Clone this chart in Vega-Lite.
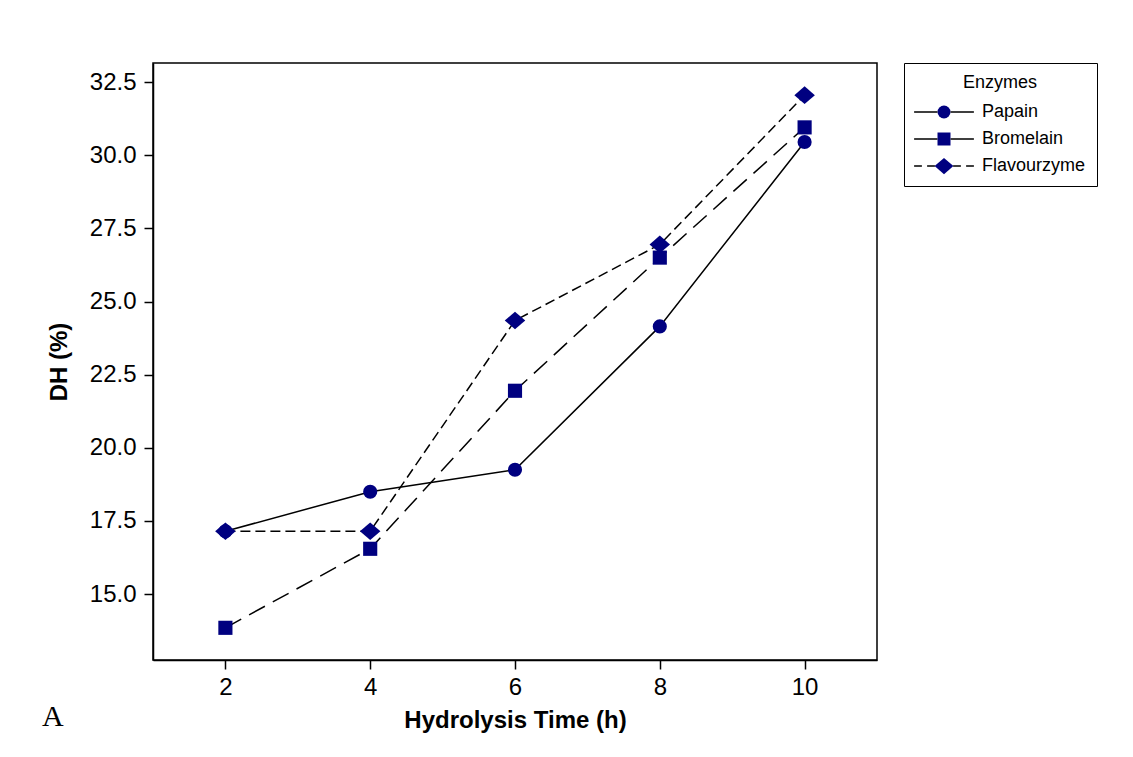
{
  "$schema": "https://vega.github.io/schema/vega-lite/v6.json",
  "autosize": "none",
  "width": 724,
  "height": 597,
  "padding": {"left": 153, "top": 63, "right": 256, "bottom": 97},
  "background": "white",
  "title": {
    "text": "A",
    "orient": "bottom",
    "anchor": "start",
    "frame": "group",
    "dx": -111,
    "offset": -30,
    "font": "Liberation Serif",
    "fontSize": 30,
    "fontWeight": "normal",
    "color": "black"
  },
  "config": {
    "view": {"stroke": "black", "strokeWidth": 1.5},
    "font": "Liberation Sans",
    "axis": {
      "grid": false,
      "domainColor": "black",
      "domainWidth": 1.5,
      "tickColor": "black",
      "tickWidth": 1.5,
      "labelColor": "black",
      "titleColor": "black",
      "labelFont": "Liberation Sans",
      "titleFont": "Liberation Sans",
      "labelFontSize": 24,
      "titleFontSize": 24,
      "titleFontWeight": "bold",
      "tickSize": 9
    },
    "legend": {
      "titleFont": "Liberation Sans",
      "labelFont": "Liberation Sans",
      "titleFontSize": 18,
      "labelFontSize": 18,
      "titleFontWeight": "normal",
      "titleColor": "black",
      "labelColor": "black",
      "titleAnchor": "middle",
      "padding": 11,
      "symbolSize": 169,
      "symbolOffset": 20,
      "labelOffset": 29,
      "rowPadding": 9,
      "titlePadding": 11,
      "labelLimit": 250
    }
  },
  "data": {
    "values": [
      {"time": 2, "dh": 17.15, "enzyme": "Papain"},
      {"time": 4, "dh": 18.5, "enzyme": "Papain"},
      {"time": 6, "dh": 19.25, "enzyme": "Papain"},
      {"time": 8, "dh": 24.15, "enzyme": "Papain"},
      {"time": 10, "dh": 30.45, "enzyme": "Papain"},
      {"time": 2, "dh": 13.85, "enzyme": "Bromelain"},
      {"time": 4, "dh": 16.55, "enzyme": "Bromelain"},
      {"time": 6, "dh": 21.95, "enzyme": "Bromelain"},
      {"time": 8, "dh": 26.5, "enzyme": "Bromelain"},
      {"time": 10, "dh": 30.95, "enzyme": "Bromelain"},
      {"time": 2, "dh": 17.15, "enzyme": "Flavourzyme"},
      {"time": 4, "dh": 17.15, "enzyme": "Flavourzyme"},
      {"time": 6, "dh": 24.35, "enzyme": "Flavourzyme"},
      {"time": 8, "dh": 26.95, "enzyme": "Flavourzyme"},
      {"time": 10, "dh": 32.05, "enzyme": "Flavourzyme"}
    ]
  },
  "encoding": {
    "x": {
      "field": "time",
      "type": "quantitative",
      "scale": {"domain": [1, 11], "nice": false, "zero": false},
      "axis": {"values": [2, 4, 6, 8, 10], "title": "Hydrolysis Time (h)", "labelPadding": 6, "titlePadding": 9}
    },
    "y": {
      "field": "dh",
      "type": "quantitative",
      "scale": {"domain": [12.75, 33.15], "nice": false, "zero": false},
      "axis": {"values": [15, 17.5, 20, 22.5, 25, 27.5, 30, 32.5], "format": ".1f", "title": "DH (%)", "labelPadding": 8, "titlePadding": 18}
    }
  },
  "layer": [
    {
      "transform": [{"filter": "datum.enzyme === 'Papain'"}],
      "mark": {"type": "line", "color": "black", "strokeWidth": 1.5},
      "encoding": {}
    },
    {
      "transform": [{"filter": "datum.enzyme === 'Bromelain'"}],
      "mark": {"type": "line", "color": "black", "strokeWidth": 1.5, "strokeDash": [18, 9]},
      "encoding": {}
    },
    {
      "transform": [{"filter": "datum.enzyme === 'Flavourzyme'"}],
      "mark": {"type": "line", "color": "black", "strokeWidth": 1.5, "strokeDash": [10, 5]},
      "encoding": {}
    },
    {
      "mark": {"type": "point", "filled": true, "color": "#000080", "opacity": 1, "size": 200, "strokeWidth": 0},
      "encoding": {
        "shape": {
          "field": "enzyme",
          "type": "nominal",
          "scale": {
            "domain": ["Papain", "Bromelain", "Flavourzyme"],
            "range": ["circle", "square", "M-1.45,0L0,-1.25L1.45,0L0,1.25Z"]
          },
          "legend": {
            "title": "Enzymes",
            "orient": "none",
            "legendX": 751,
            "legendY": 0,
            "strokeColor": "black",
            "fillColor": "white",
            "symbolFillColor": "#000080",
            "symbolStrokeWidth": 0
          }
        }
      }
    },
    {
      "transform": [{"filter": "false"}],
      "mark": {"type": "point", "filled": false, "color": "black", "opacity": 1, "size": 169, "strokeWidth": 1.5},
      "encoding": {
        "shape": {
          "field": "enzyme",
          "type": "nominal",
          "scale": {
            "domain": ["Papain", "Bromelain", "Flavourzyme"],
            "range": [
              "M-4.6,0L-1,0M1,0L4.6,0",
              "M-4.6,0L-1,0M1,0L4.6,0",
              "M-4.6,0L-3.4,0M-2.6,0L-1.4,0M1.4,0L2.6,0M3.4,0L4.6,0"
            ]
          },
          "legend": {
            "title": "Enzymes",
            "orient": "none",
            "legendX": 751,
            "legendY": 0,
            "strokeColor": "transparent",
            "fillColor": "transparent",
            "titleOpacity": 0,
            "labelOpacity": 0,
            "symbolFillColor": "transparent",
            "symbolStrokeColor": "black",
            "symbolStrokeWidth": 1.5
          }
        }
      }
    }
  ],
  "resolve": {"scale": {"shape": "independent"}, "legend": {"shape": "independent"}}
}
